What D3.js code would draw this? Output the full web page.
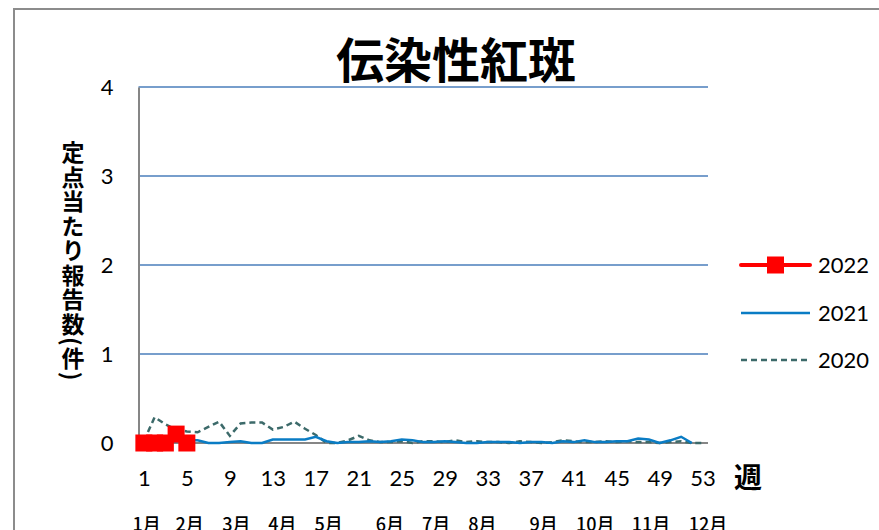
<!DOCTYPE html>
<html>
<head>
<meta charset="utf-8">
<script src="https://cdn.jsdelivr.net/npm/d3@7"></script>
<style>
  body { margin: 0; background: #fff; }
  svg { display: block; }
</style>
</head>
<body>
<svg id="chart" width="879" height="530"></svg>
<script>
// 伝染性紅斑 - 定点当たり報告数
var title = "伝染性紅斑";
var yTitle = "定点当たり報告数(件)";
var xUnit = "週";

var weeks = d3.range(1, 54);
var xTickWeeks = [1, 5, 9, 13, 17, 21, 25, 29, 33, 37, 41, 45, 49, 53];
var yTicks = [0, 1, 2, 3, 4];
var monthLabels = ["1月", "2月", "3月", "4月", "5月", "6月", "7月", "8月", "9月", "10月", "11月", "12月"];
var monthWeeks = [1.25, 5.25, 9.6, 13.9, 18.2, 23.9, 28.2, 32.5, 38.2, 43.0, 48.2, 53.5];

var seriesNames = ["2022", "2021", "2020"];
var vals2022 = [0, 0, 0, 0.1, 0];
var vals2021 = [0.03, 0.02, 0.01, 0.02, 0.03, 0.03, 0.00, 0.00, 0.01, 0.02,
                0.00, 0.00, 0.04, 0.04, 0.04, 0.04, 0.07, 0.02, 0.00, 0.01,
                0.01, 0.02, 0.01, 0.02, 0.04, 0.03, 0.01, 0.01, 0.02, 0.01,
                0.00, 0.00, 0.01, 0.01, 0.01, 0.00, 0.01, 0.01, 0.00, 0.02,
                0.01, 0.03, 0.01, 0.01, 0.02, 0.02, 0.05, 0.04, 0.00, 0.03,
                0.07, 0.00];
var vals2020 = [0.02, 0.29, 0.21, 0.15, 0.13, 0.12, 0.18, 0.24, 0.08, 0.22,
                0.23, 0.23, 0.15, 0.18, 0.24, 0.16, 0.09, 0.00, 0.00, 0.03,
                0.08, 0.03, 0.01, 0.01, 0.02, 0.00, 0.02, 0.02, 0.01, 0.03,
                0.01, 0.02, 0.01, 0.01, 0.00, 0.02, 0.01, 0.00, 0.01, 0.03,
                0.02, 0.01, 0.01, 0.02, 0.01, 0.02, 0.01, 0.01, 0.00, 0.01,
                0.02, 0.00, 0.00];

var chart = d3.select("#chart");
var numFont = "Lato, 'Liberation Sans', sans-serif";
var jpFont = "'Noto Sans CJK JP', sans-serif";

// outer frame
chart.append("rect")
    .attr("x", 14).attr("y", 9)
    .attr("width", 900).attr("height", 560)
    .attr("fill", "none")
    .attr("stroke", "#8c8c8c")
    .attr("stroke-width", 2);

var plotLeft = 138.5, plotRight = 708, plotTop = 87, plotBottom = 443;

var xScale = d3.scalePoint()
    .domain(weeks)
    .range([plotLeft, plotRight])
    .padding(0.5);
// fractional week -> x (for the month row)
var xWeek = d3.scaleLinear()
    .domain([1, 53])
    .range([xScale(1), xScale(53)]);

var yScale = d3.scaleLinear()
    .domain([0, 4])
    .range([plotBottom, plotTop]);

// grid lines
chart.append("g")
    .selectAll("line")
    .data(yTicks.filter(function(d) { return d > 0; }))
    .enter().append("line")
        .attr("x1", plotLeft).attr("x2", plotRight)
        .attr("y1", function(d) { return yScale(d); })
        .attr("y2", function(d) { return yScale(d); })
        .attr("stroke", "#4a7ebb")
        .attr("stroke-width", 1.5);

// y axis
var yAxis = chart.append("g")
    .attr("transform", "translate(" + plotLeft + ",0)")
    .call(d3.axisLeft(yScale).tickValues(yTicks).tickSize(0).tickSizeOuter(0).tickPadding(25).tickFormat(d3.format("d")));
yAxis.select(".domain").attr("stroke", "#868686").attr("stroke-width", 2);
yAxis.selectAll("text").attr("font-family", numFont).attr("font-size", 22).attr("fill", "#000");

// x axis
var xAxis = chart.append("g")
    .attr("transform", "translate(0," + plotBottom + ")")
    .call(d3.axisBottom(xScale).tickValues(xTickWeeks).tickSize(0).tickSizeOuter(0).tickPadding(27));
xAxis.select(".domain").attr("stroke", "#868686").attr("stroke-width", 2)
    .attr("d", "M" + plotLeft + ",0H" + plotRight);
xAxis.selectAll("text").attr("font-family", numFont).attr("font-size", 22).attr("fill", "#000");

// month row (cut by the bottom edge, like the original)
chart.append("g")
    .selectAll("text")
    .data(monthLabels)
    .enter().append("text")
        .attr("x", function(d, i) { return xWeek(monthWeeks[i]); })
        .attr("y", 531)
        .attr("text-anchor", "middle")
        .attr("font-family", jpFont)
        .attr("font-size", 18)
        .attr("font-weight", 500)
        .text(function(d) { return d; });

// 週
chart.append("text")
    .text(xUnit)
    .attr("x", 748).attr("y", 488)
    .attr("text-anchor", "middle")
    .attr("font-family", jpFont)
    .attr("font-size", 28)
    .attr("font-weight", "bold");

// title
chart.append("text")
    .text(title)
    .attr("x", 456).attr("y", 78)
    .attr("text-anchor", "middle")
    .attr("font-family", jpFont)
    .attr("font-size", 48)
    .attr("font-weight", "bold");

// y title, vertical
chart.append("text")
    .text(yTitle)
    .attr("x", 73).attr("y", 141)
    .style("writing-mode", "vertical-rl")
    .attr("font-family", jpFont)
    .attr("font-size", 23)
    .attr("letter-spacing", 1.5)
    .attr("font-weight", "bold");

var line = d3.line()
    .x(function(d) { return xScale(d.w); })
    .y(function(d) { return yScale(d.v); });

function toPts(vals) {
    return vals.map(function(v, i) { return { w: weeks[i], v: v }; });
}

// 2020 dashed
chart.append("path")
    .datum(toPts(vals2020))
    .attr("d", line)
    .attr("fill", "none")
    .attr("stroke", "#3c6a6a")
    .attr("stroke-width", 2.5)
    .attr("stroke-dasharray", "6,4");

// 2021
chart.append("path")
    .datum(toPts(vals2021))
    .attr("d", line)
    .attr("fill", "none")
    .attr("stroke", "#0a7cc4")
    .attr("stroke-width", 2.5);

// 2022
var pts2022 = toPts(vals2022);
chart.append("path")
    .datum(pts2022)
    .attr("d", line)
    .attr("fill", "none")
    .attr("stroke", "#ff0000")
    .attr("stroke-width", 4);
chart.selectAll("rect.mk")
    .data(pts2022).enter()
    .append("rect")
        .attr("class", "mk")
        .attr("x", function(d) { return xScale(d.w) - 8.5; })
        .attr("y", function(d) { return yScale(d.v) - 8.5; })
        .attr("width", 17).attr("height", 17)
        .attr("fill", "#ff0000");

// legend
var legY = [265, 313, 360];
var leg = chart.append("g");
seriesNames.forEach(function(name, i) {
    var g = leg.append("g").attr("transform", "translate(0," + legY[i] + ")");
    var ln = g.append("line")
        .attr("x1", 741).attr("x2", 810)
        .attr("y1", 0).attr("y2", 0);
    if (i == 0) {
        ln.attr("stroke", "#ff0000").attr("stroke-width", 4).attr("stroke-linecap", "round");
        g.append("rect").attr("x", 767).attr("y", -8.5).attr("width", 17).attr("height", 17).attr("fill", "#ff0000");
    } else if (i == 1) {
        ln.attr("stroke", "#0a7cc4").attr("stroke-width", 2.5);
    } else {
        ln.attr("stroke", "#3c6a6a").attr("stroke-width", 2.5).attr("stroke-dasharray", "6,4");
    }
    g.append("text")
        .text(name)
        .attr("x", 818).attr("y", 8)
        .attr("font-family", numFont)
        .attr("font-size", 22);
});
</script>
</body>
</html>
